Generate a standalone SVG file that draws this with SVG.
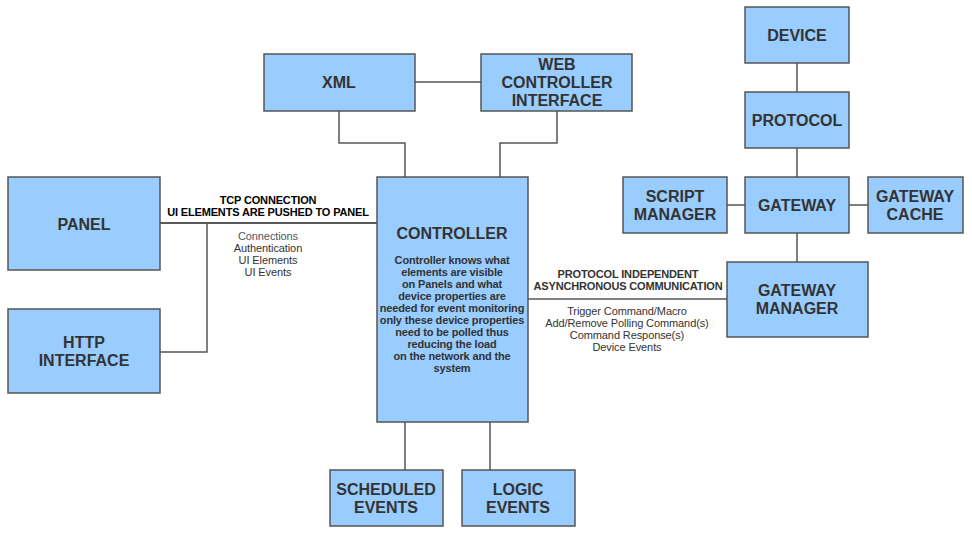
<svg xmlns="http://www.w3.org/2000/svg" width="972" height="533" viewBox="0 0 972 533">
<style>
.box{fill:#99ccff;stroke:#555;stroke-width:1.5}
.t{font-family:"Liberation Sans",Arial,sans-serif;font-weight:bold;font-size:16px;fill:#333;text-anchor:middle}
.s{font-family:"Liberation Sans",Arial,sans-serif;font-weight:bold;font-size:11px;fill:#333;text-anchor:middle;letter-spacing:-0.15px}
.sk{font-family:"Liberation Sans",Arial,sans-serif;font-weight:bold;font-size:11px;fill:#000;text-anchor:middle;letter-spacing:-0.15px}
.n{font-family:"Liberation Sans",Arial,sans-serif;font-size:11px;fill:#333;text-anchor:middle;letter-spacing:-0.1px}
.c{fill:none;stroke:#555;stroke-width:1.5}
</style>
<rect width="972" height="533" fill="#fff"/>
<g id="connectors">
<path class="c" d="M415 82H481"/>
<path class="c" d="M339 111V143H405V177"/>
<path class="c" d="M557 111V143H500V177"/>
<path class="c" d="M160 223H377" style="stroke:#222"/>
<path class="c" d="M207 223V352H160"/>
<path class="c" d="M405 422V470"/>
<path class="c" d="M490 422V470"/>
<path class="c" d="M528 299H727"/>
<path class="c" d="M797 63V92"/>
<path class="c" d="M797 148V177"/>
<path class="c" d="M797 233V262"/>
<path class="c" d="M727 205H745"/>
<path class="c" d="M849 205H868"/>
<text class="sk" x="268" y="204">TCP CONNECTION</text>
<text class="sk" x="268" y="216">UI ELEMENTS ARE PUSHED TO PANEL</text>
<text class="n" x="268" y="240" style="fill:#4d5866">Connections</text>
<text class="n" x="268" y="252">Authentication</text>
<text class="n" x="268" y="264">UI Elements</text>
<text class="n" x="268" y="276">UI Events</text>
<text class="s" x="628" y="278">PROTOCOL INDEPENDENT</text>
<text class="s" x="628" y="290">ASYNCHRONOUS COMMUNICATION</text>
<text class="n" x="627" y="315">Trigger Command/Macro</text>
<text class="n" x="627" y="327">Add/Remove Polling Command(s)</text>
<text class="n" x="627" y="339">Command Response(s)</text>
<text class="n" x="627" y="351">Device Events</text>
</g>
<g id="panel"><rect class="box" x="8" y="177" width="152" height="93"/><text class="t" x="84" y="230">PANEL</text></g>
<g id="http"><rect class="box" x="8" y="309" width="152" height="84"/><text class="t" x="84" y="348">HTTP</text><text class="t" x="84" y="366">INTERFACE</text></g>
<g id="xml"><rect class="box" x="264" y="54" width="151" height="57"/><text class="t" x="339" y="88">XML</text></g>
<g id="web"><rect class="box" x="481" y="54" width="151" height="57"/><text class="t" x="557" y="70">WEB</text><text class="t" x="557" y="88">CONTROLLER</text><text class="t" x="557" y="106">INTERFACE</text></g>
<g id="controller"><rect class="box" x="377" y="177" width="151" height="245"/>
<text class="t" x="452" y="239">CONTROLLER</text>
<text class="s" x="452" y="264">Controller knows what</text>
<text class="s" x="452" y="276">elements are visible</text>
<text class="s" x="452" y="288">on Panels and what</text>
<text class="s" x="452" y="300">device properties are</text>
<text class="s" x="452" y="312">needed for event monitoring</text>
<text class="s" x="452" y="324">only these device properties</text>
<text class="s" x="452" y="336">need to be polled thus</text>
<text class="s" x="452" y="348">reducing the load</text>
<text class="s" x="452" y="360">on the network and the</text>
<text class="s" x="452" y="372">system</text>
</g>
<g id="scheduled"><rect class="box" x="330" y="470" width="113" height="56"/><text class="t" x="386" y="495">SCHEDULED</text><text class="t" x="386" y="513">EVENTS</text></g>
<g id="logic"><rect class="box" x="462" y="470" width="113" height="56"/><text class="t" x="518" y="495">LOGIC</text><text class="t" x="518" y="513">EVENTS</text></g>
<g id="device"><rect class="box" x="745" y="7" width="104" height="56"/><text class="t" x="797" y="41">DEVICE</text></g>
<g id="protocol"><rect class="box" x="745" y="92" width="104" height="56"/><text class="t" x="797" y="126">PROTOCOL</text></g>
<g id="gateway"><rect class="box" x="745" y="177" width="104" height="56"/><text class="t" x="797" y="211">GATEWAY</text></g>
<g id="script"><rect class="box" x="623" y="177" width="104" height="56"/><text class="t" x="675" y="202">SCRIPT</text><text class="t" x="675" y="220">MANAGER</text></g>
<g id="cache"><rect class="box" x="868" y="177" width="95" height="56"/><text class="t" x="915" y="202">GATEWAY</text><text class="t" x="915" y="220">CACHE</text></g>
<g id="gwmanager"><rect class="box" x="727" y="262" width="141" height="75"/><text class="t" x="797" y="296">GATEWAY</text><text class="t" x="797" y="314">MANAGER</text></g>
</svg>
